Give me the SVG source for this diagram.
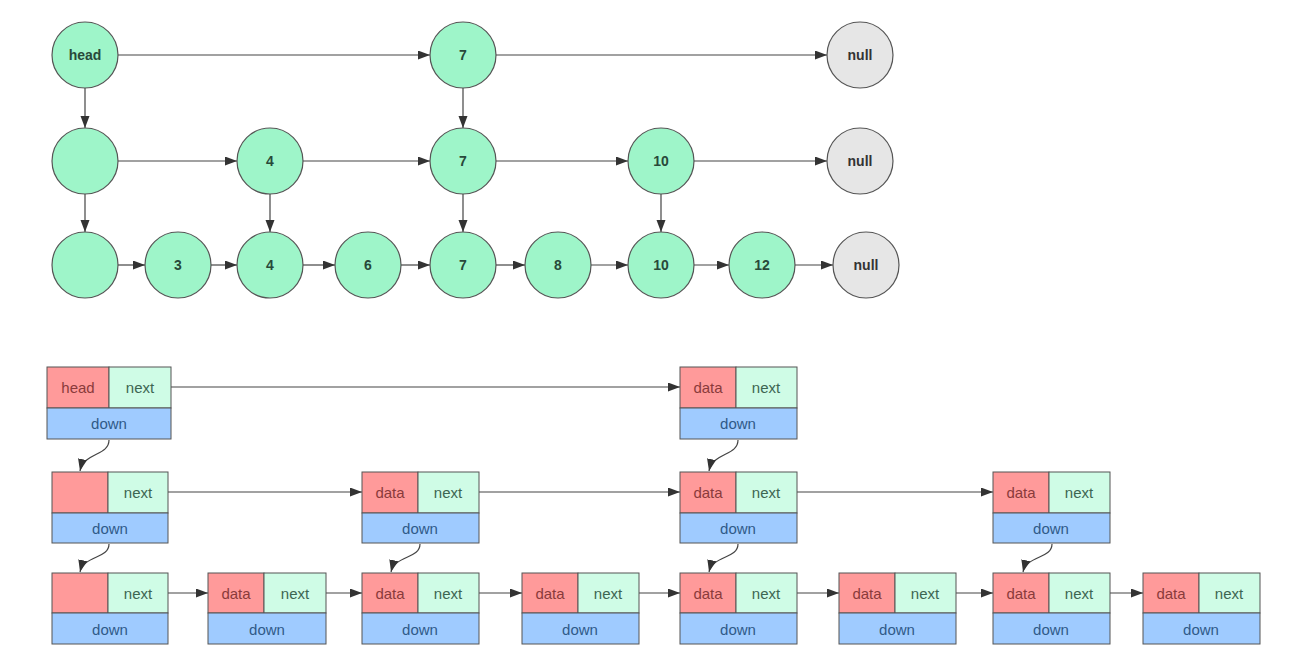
<svg xmlns="http://www.w3.org/2000/svg" width="1290" height="664" viewBox="0 0 1290 664">
<style>
.c{fill:#9ef5c9;stroke:#555;stroke-width:1.2}
.n{fill:#e6e6e6;stroke:#555;stroke-width:1.2}
.ct{font-family:"Liberation Sans",Arial,sans-serif;font-size:14px;font-weight:bold;fill:#28493a;text-anchor:middle;dominant-baseline:central}
.nt{fill:#333}
.r{fill:#ff9a9a;stroke:#555;stroke-width:1}
.g{fill:#cffce6;stroke:#555;stroke-width:1}
.b{fill:#9fcbff;stroke:#555;stroke-width:1}
.tr{font-family:"Liberation Sans",Arial,sans-serif;font-size:15px;fill:#8a3b3b;text-anchor:middle;dominant-baseline:central}
.tg{font-family:"Liberation Sans",Arial,sans-serif;font-size:15px;fill:#3d6652;text-anchor:middle;dominant-baseline:central}
.tb{font-family:"Liberation Sans",Arial,sans-serif;font-size:15px;fill:#2f5a88;text-anchor:middle;dominant-baseline:central}
.e{fill:none;stroke:#444;stroke-width:1.2;marker-end:url(#a)}
</style>
<defs>
<marker id="a" markerUnits="userSpaceOnUse" markerWidth="13" markerHeight="10" refX="12" refY="4.5" orient="auto">
<path d="M0,0 L12,4.5 L0,9 z" fill="#333"/>
</marker>
</defs>
<g id="connectors">
<line class="e" x1="118" y1="55" x2="430" y2="55"/>
<line class="e" x1="496" y1="55" x2="827" y2="55"/>
<line class="e" x1="85" y1="88" x2="85" y2="128"/>
<line class="e" x1="463" y1="88" x2="463" y2="128"/>
<line class="e" x1="118" y1="161" x2="237" y2="161"/>
<line class="e" x1="303" y1="161" x2="430" y2="161"/>
<line class="e" x1="496" y1="161" x2="628" y2="161"/>
<line class="e" x1="694" y1="161" x2="827" y2="161"/>
<line class="e" x1="85" y1="194" x2="85" y2="232"/>
<line class="e" x1="270" y1="194" x2="270" y2="232"/>
<line class="e" x1="463" y1="194" x2="463" y2="232"/>
<line class="e" x1="661" y1="194" x2="661" y2="232"/>
<line class="e" x1="118" y1="265" x2="145" y2="265"/>
<line class="e" x1="211" y1="265" x2="237" y2="265"/>
<line class="e" x1="303" y1="265" x2="335" y2="265"/>
<line class="e" x1="401" y1="265" x2="430" y2="265"/>
<line class="e" x1="496" y1="265" x2="525" y2="265"/>
<line class="e" x1="591" y1="265" x2="628" y2="265"/>
<line class="e" x1="694" y1="265" x2="729" y2="265"/>
<line class="e" x1="795" y1="265" x2="833" y2="265"/>
<line class="e" x1="171" y1="387" x2="680" y2="387"/>
<line class="e" x1="168" y1="492" x2="362" y2="492"/>
<line class="e" x1="479" y1="492" x2="680" y2="492"/>
<line class="e" x1="797" y1="492" x2="993" y2="492"/>
<line class="e" x1="168" y1="593" x2="208" y2="593"/>
<line class="e" x1="326" y1="593" x2="362" y2="593"/>
<line class="e" x1="479" y1="593" x2="522" y2="593"/>
<line class="e" x1="639" y1="593" x2="680" y2="593"/>
<line class="e" x1="797" y1="593" x2="839" y2="593"/>
<line class="e" x1="956" y1="593" x2="993" y2="593"/>
<line class="e" x1="1110" y1="593" x2="1143" y2="593"/>
<path class="e" d="M109,440 C109,456 84,452 80,471"/>
<path class="e" d="M738,440 C738,456 713,452 709,471"/>
<path class="e" d="M109,544 C109,559 84,555 80,572"/>
<path class="e" d="M420,544 C420,559 395,555 391,572"/>
<path class="e" d="M738,544 C738,559 713,555 709,572"/>
<path class="e" d="M1052,544 C1052,559 1027,555 1023,572"/>
</g>
<g id="c-head"><circle class="c" cx="85" cy="55" r="33"/><text class="ct" x="85" y="55">head</text></g>
<g id="c-7a"><circle class="c" cx="463" cy="55" r="33"/><text class="ct" x="463" y="55">7</text></g>
<g id="c-null1"><circle class="n" cx="860" cy="55" r="33"/><text class="ct nt" x="860" y="55">null</text></g>
<g id="c-l2"><circle class="c" cx="85" cy="161" r="33"/></g>
<g id="c-4a"><circle class="c" cx="270" cy="161" r="33"/><text class="ct" x="270" y="161">4</text></g>
<g id="c-7b"><circle class="c" cx="463" cy="161" r="33"/><text class="ct" x="463" y="161">7</text></g>
<g id="c-10a"><circle class="c" cx="661" cy="161" r="33"/><text class="ct" x="661" y="161">10</text></g>
<g id="c-null2"><circle class="n" cx="860" cy="161" r="33"/><text class="ct nt" x="860" y="161">null</text></g>
<g id="c-l3"><circle class="c" cx="85" cy="265" r="33"/></g>
<g id="c-3"><circle class="c" cx="178" cy="265" r="33"/><text class="ct" x="178" y="265">3</text></g>
<g id="c-4b"><circle class="c" cx="270" cy="265" r="33"/><text class="ct" x="270" y="265">4</text></g>
<g id="c-6"><circle class="c" cx="368" cy="265" r="33"/><text class="ct" x="368" y="265">6</text></g>
<g id="c-7c"><circle class="c" cx="463" cy="265" r="33"/><text class="ct" x="463" y="265">7</text></g>
<g id="c-8"><circle class="c" cx="558" cy="265" r="33"/><text class="ct" x="558" y="265">8</text></g>
<g id="c-10b"><circle class="c" cx="661" cy="265" r="33"/><text class="ct" x="661" y="265">10</text></g>
<g id="c-12"><circle class="c" cx="762" cy="265" r="33"/><text class="ct" x="762" y="265">12</text></g>
<g id="c-null3"><circle class="n" cx="866" cy="265" r="33"/><text class="ct nt" x="866" y="265">null</text></g>

<g id="b-head"><rect class="r" x="47" y="367" width="62" height="41"/><rect class="g" x="109" y="367" width="62" height="41"/><rect class="b" x="47" y="408" width="124" height="31"/>
<text class="tr" x="78" y="387">head</text><text class="tg" x="140" y="387">next</text><text class="tb" x="109" y="423">down</text></g>
<g id="b-r1-2"><rect class="r" x="680" y="367" width="56" height="41"/><rect class="g" x="736" y="367" width="61" height="41"/><rect class="b" x="680" y="408" width="117" height="31"/>
<text class="tr" x="708" y="387">data</text><text class="tg" x="766" y="387">next</text><text class="tb" x="738" y="423">down</text></g>

<g id="b-r2-1"><rect class="r" x="52" y="472" width="56" height="41"/><rect class="g" x="108" y="472" width="60" height="41"/><rect class="b" x="52" y="513" width="116" height="30"/>
<text class="tg" x="138" y="492">next</text><text class="tb" x="110" y="528">down</text></g>
<g id="b-r2-2"><rect class="r" x="362" y="472" width="56" height="41"/><rect class="g" x="418" y="472" width="61" height="41"/><rect class="b" x="362" y="513" width="117" height="30"/>
<text class="tr" x="390" y="492">data</text><text class="tg" x="448" y="492">next</text><text class="tb" x="420" y="528">down</text></g>
<g id="b-r2-3"><rect class="r" x="680" y="472" width="56" height="41"/><rect class="g" x="736" y="472" width="61" height="41"/><rect class="b" x="680" y="513" width="117" height="30"/>
<text class="tr" x="708" y="492">data</text><text class="tg" x="766" y="492">next</text><text class="tb" x="738" y="528">down</text></g>
<g id="b-r2-4"><rect class="r" x="993" y="472" width="56" height="41"/><rect class="g" x="1049" y="472" width="61" height="41"/><rect class="b" x="993" y="513" width="117" height="30"/>
<text class="tr" x="1021" y="492">data</text><text class="tg" x="1079" y="492">next</text><text class="tb" x="1051" y="528">down</text></g>

<g id="b-r3-1"><rect class="r" x="52" y="573" width="56" height="40"/><rect class="g" x="108" y="573" width="60" height="40"/><rect class="b" x="52" y="613" width="116" height="31"/>
<text class="tg" x="138" y="593">next</text><text class="tb" x="110" y="629">down</text></g>
<g id="b-r3-2"><rect class="r" x="208" y="573" width="56" height="40"/><rect class="g" x="264" y="573" width="62" height="40"/><rect class="b" x="208" y="613" width="118" height="31"/>
<text class="tr" x="236" y="593">data</text><text class="tg" x="295" y="593">next</text><text class="tb" x="267" y="629">down</text></g>
<g id="b-r3-3"><rect class="r" x="362" y="573" width="56" height="40"/><rect class="g" x="418" y="573" width="61" height="40"/><rect class="b" x="362" y="613" width="117" height="31"/>
<text class="tr" x="390" y="593">data</text><text class="tg" x="448" y="593">next</text><text class="tb" x="420" y="629">down</text></g>
<g id="b-r3-4"><rect class="r" x="522" y="573" width="56" height="40"/><rect class="g" x="578" y="573" width="61" height="40"/><rect class="b" x="522" y="613" width="117" height="31"/>
<text class="tr" x="550" y="593">data</text><text class="tg" x="608" y="593">next</text><text class="tb" x="580" y="629">down</text></g>
<g id="b-r3-5"><rect class="r" x="680" y="573" width="56" height="40"/><rect class="g" x="736" y="573" width="61" height="40"/><rect class="b" x="680" y="613" width="117" height="31"/>
<text class="tr" x="708" y="593">data</text><text class="tg" x="766" y="593">next</text><text class="tb" x="738" y="629">down</text></g>
<g id="b-r3-6"><rect class="r" x="839" y="573" width="56" height="40"/><rect class="g" x="895" y="573" width="61" height="40"/><rect class="b" x="839" y="613" width="117" height="31"/>
<text class="tr" x="867" y="593">data</text><text class="tg" x="925" y="593">next</text><text class="tb" x="897" y="629">down</text></g>
<g id="b-r3-7"><rect class="r" x="993" y="573" width="56" height="40"/><rect class="g" x="1049" y="573" width="61" height="40"/><rect class="b" x="993" y="613" width="117" height="31"/>
<text class="tr" x="1021" y="593">data</text><text class="tg" x="1079" y="593">next</text><text class="tb" x="1051" y="629">down</text></g>
<g id="b-r3-8"><rect class="r" x="1143" y="573" width="56" height="40"/><rect class="g" x="1199" y="573" width="61" height="40"/><rect class="b" x="1143" y="613" width="117" height="31"/>
<text class="tr" x="1171" y="593">data</text><text class="tg" x="1229" y="593">next</text><text class="tb" x="1201" y="629">down</text></g>
</svg>
